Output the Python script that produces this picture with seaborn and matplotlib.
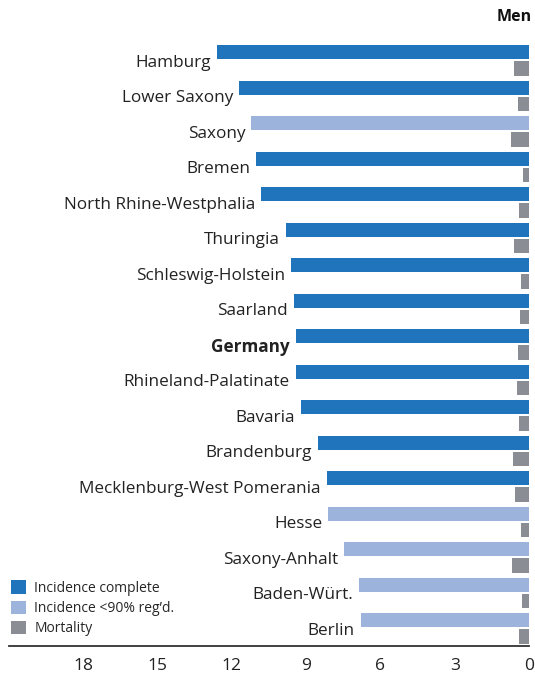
import matplotlib
matplotlib.use("Agg")
import matplotlib.pyplot as plt
import seaborn as sns
import pandas as pd

states = ["Hamburg", "Lower Saxony", "Saxony", "Bremen", "North Rhine-Westphalia",
          "Thuringia", "Schleswig-Holstein", "Saarland", "Germany", "Rhineland-Palatinate",
          "Bavaria", "Brandenburg", "Mecklenburg-West Pomerania", "Hesse", "Saxony-Anhalt",
          "Baden-Würt.", "Berlin"]
incidence = [12.6, 11.7, 11.2, 11.0, 10.8, 9.8, 9.6, 9.5, 9.4, 9.4, 9.2, 8.5, 8.15,
             8.1, 7.45, 6.85, 6.8]
mortality = [0.62, 0.46, 0.73, 0.23, 0.40, 0.60, 0.32, 0.36, 0.44, 0.48, 0.39, 0.66,
             0.55, 0.32, 0.69, 0.28, 0.39]
complete = [True, True, False, True, True, True, True, True, True, True, True, True,
            True, False, False, False, False]

kinds = ["Incidence complete", "Incidence <90% reg\u2019d.", "Mortality"]
colors = ["#1f74bb", "#9cb3dc", "#8a8d94"]

rows = []
for i, s in enumerate(states):
    rows.append({"state": s, "pos": i - 0.228, "value": incidence[i],
                 "kind": kinds[0] if complete[i] else kinds[1]})
    rows.append({"state": s, "pos": i + 0.228, "value": mortality[i], "kind": kinds[2]})
df = pd.DataFrame(rows)

sns.set_style("white")
plt.rcParams['font.family'] = ['Open Sans', 'DejaVu Sans']

fig = plt.figure(figsize=(5.35, 6.74), dpi=100)
ax = fig.add_axes([0.016, 0.0415, 0.973, 0.8953])

sns.barplot(data=df, x="value", y="pos", hue="kind", hue_order=kinds,
            palette=colors, saturation=1, orient="y", native_scale=True, dodge=False,
            width=0.888, linewidth=0, ax=ax)

ax.set_xlim(21, 0)
ax.set_ylim(16.5, -0.5)
ax.set_xticks([0, 3, 6, 9, 12, 15, 18])
ax.set_yticks([])
ax.set_xlabel("")
ax.set_ylabel("")
for side in ["top", "right", "left"]:
    ax.spines[side].set_visible(False)
ax.spines["bottom"].set_color("#333333")
ax.spines["bottom"].set_linewidth(1.3)
ax.tick_params(axis="x", direction="out", length=6.5, width=1.1, color="#333333",
               labelsize=12.5, labelcolor="#222222", pad=2)

for i, s in enumerate(states):
    ax.text(incidence[i] + 0.25, i + 0.07, s, ha="right", va="center", fontsize=12.3,
            color="#222222", fontweight="bold" if s == "Germany" else "normal")

fig.text(0.994, 0.975, "Men", ha="right", va="center", fontsize=11.5,
         fontweight="bold", color="#111111")

handles, labels = ax.get_legend_handles_labels()
ax.legend(handles, labels, loc="lower left", bbox_to_anchor=(0.02, 0.056),
          bbox_transform=fig.transFigure, frameon=False, fontsize=10,
          handlelength=1.1, handleheight=1.1, handletextpad=0.6,
          labelspacing=0.35, borderpad=0, borderaxespad=0)

fig.savefig("out.png", dpi=100)
